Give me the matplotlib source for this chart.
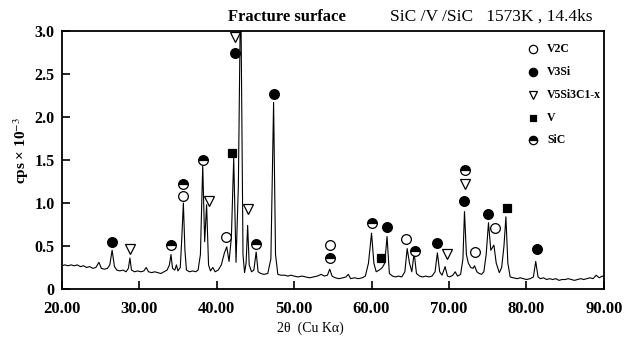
import matplotlib
matplotlib.use("Agg")
import matplotlib.pyplot as plt

# ---------------- data ----------------
two_theta = [20.0, 20.4, 20.8, 21.2, 21.6, 22.0, 22.4, 22.8, 23.2, 23.6, 24.0, 24.4, 24.8, 25.1, 25.5,
             25.9, 26.2, 26.5, 26.8, 27.1, 27.5, 27.9, 28.3, 28.6, 28.8, 29.0, 29.4, 29.8, 30.2, 30.6,
             30.9, 31.2, 31.6, 32.0, 32.4, 32.8, 33.2, 33.6, 33.9, 34.1, 34.3, 34.6, 34.8, 35.0, 35.3,
             35.5, 35.7, 35.9, 36.1, 36.5, 36.9, 37.3, 37.6, 37.9, 38.2, 38.45, 38.7, 38.95, 39.2, 39.5,
             39.8, 40.2, 40.6, 41.0, 41.3, 41.6, 41.9, 42.2, 42.5, 42.8, 43.1, 43.4, 43.6, 43.8, 44.0,
             44.2, 44.5, 44.8, 45.1, 45.35, 45.7, 46.1, 46.6, 47.0, 47.35, 47.6, 47.9, 48.3, 48.8, 49.2,
             49.6, 50.0, 50.5, 51.0, 51.5, 52.0, 52.5, 53.0, 53.5, 53.9, 54.3, 54.6, 54.9, 55.3, 55.8,
             56.3, 56.7, 57.0, 57.3, 57.8, 58.3, 58.8, 59.2, 59.6, 60.0, 60.3, 60.6, 61.0, 61.4, 61.7,
             62.0, 62.3, 62.7, 63.1, 63.5, 63.9, 64.3, 64.6, 64.9, 65.2, 65.5, 65.8, 66.2, 66.6, 67.0,
             67.4, 67.8, 68.2, 68.5, 68.8, 69.1, 69.5, 69.8, 70.1, 70.5, 70.8, 71.1, 71.5, 71.8, 72.0,
             72.25, 72.5, 72.8, 73.1, 73.3, 73.6, 73.9, 74.2, 74.5, 74.8, 75.1, 75.4, 75.8, 76.1, 76.5,
             76.8, 77.1, 77.35, 77.6, 77.9, 78.3, 78.8, 79.2, 79.6, 80.0, 80.5, 80.9, 81.2, 81.5, 81.8,
             82.2, 82.6, 83.0, 83.4, 83.8, 84.2, 84.6, 85.0, 85.4, 85.8, 86.2, 86.6, 87.0, 87.4, 87.8,
             88.2, 88.6, 89.0, 89.4, 89.8, 90.0]
counts = [0.27, 0.28, 0.27, 0.28, 0.27, 0.28, 0.26, 0.27, 0.25, 0.26, 0.24, 0.25, 0.31, 0.24, 0.23,
          0.24, 0.28, 0.45, 0.26, 0.22, 0.21, 0.22, 0.20, 0.24, 0.36, 0.22, 0.20, 0.21, 0.20, 0.21,
          0.25, 0.20, 0.19, 0.20, 0.19, 0.18, 0.20, 0.22, 0.28, 0.40, 0.24, 0.22, 0.28, 0.21, 0.25,
          0.60, 1.00, 0.45, 0.22, 0.20, 0.21, 0.20, 0.22, 0.40, 1.44, 0.55, 0.98, 0.28, 0.21, 0.25,
          0.20, 0.22, 0.28, 0.42, 0.49, 0.32, 0.60, 1.52, 0.31, 1.20, 3.60, 0.40, 0.19, 0.30, 0.74,
          0.28, 0.20, 0.22, 0.43, 0.20, 0.18, 0.17, 0.18, 0.35, 2.17, 0.40, 0.17, 0.16, 0.16, 0.15,
          0.16, 0.15, 0.14, 0.15, 0.14, 0.13, 0.14, 0.15, 0.17, 0.15, 0.16, 0.23, 0.15, 0.13, 0.12,
          0.13, 0.14, 0.17, 0.12, 0.13, 0.12, 0.13, 0.15, 0.30, 0.65, 0.30, 0.20, 0.22, 0.25, 0.30,
          0.61, 0.18, 0.15, 0.14, 0.15, 0.14, 0.20, 0.47, 0.30, 0.20, 0.42, 0.18, 0.15, 0.14, 0.15,
          0.14, 0.15, 0.20, 0.42, 0.20, 0.16, 0.26, 0.15, 0.14, 0.16, 0.20, 0.15, 0.17, 0.35, 0.90,
          0.40, 0.30, 0.25, 0.24, 0.27, 0.20, 0.18, 0.17, 0.20, 0.40, 0.77, 0.45, 0.51, 0.30, 0.19,
          0.25, 0.50, 0.84, 0.30, 0.14, 0.13, 0.12, 0.13, 0.12, 0.11, 0.12, 0.14, 0.32, 0.14, 0.12,
          0.13, 0.11, 0.12, 0.11, 0.12, 0.10, 0.11, 0.11, 0.12, 0.11, 0.10, 0.11, 0.12, 0.11, 0.12,
          0.13, 0.12, 0.16, 0.13, 0.15, 0.14]

# peak markers (2theta, height) per phase
v2c_x = [35.7, 41.2, 54.6, 64.5, 73.4, 76.0]
v2c_y = [1.08, 0.60, 0.51, 0.58, 0.43, 0.71]
v3si_x = [26.5, 42.4, 47.4, 62.0, 68.5, 72.0, 75.0, 81.3]
v3si_y = [0.55, 2.74, 2.27, 0.72, 0.53, 1.02, 0.87, 0.46]
v5si3_x = [28.8, 39.0, 42.4, 44.0, 69.8, 72.1]
v5si3_y = [0.46, 1.02, 2.93, 0.93, 0.41, 1.22]
v_x = [42.0, 61.2, 77.5]
v_y = [1.58, 0.36, 0.94]
sic_x = [34.1, 35.7, 38.2, 45.1, 54.6, 60.0, 65.6, 72.1]
sic_y = [0.51, 1.22, 1.50, 0.52, 0.36, 0.77, 0.44, 1.38]

legend_labels = ["V2C", "V3Si", "V5Si3C1-x", "V", "SiC"]

xticks = [20, 30, 40, 50, 60, 70, 80, 90]
xtick_labels = ["20.00", "30.00", "40.00", "50.00", "60.00", "70.00", "80.00", "90.00"]
yticks = [0, 0.5, 1.0, 1.5, 2.0, 2.5, 3.0]
ytick_labels = ["0", "0.5", "1.0", "1.5", "2.0", "2.5", "3.0"]

# ---------------- plot ----------------
plt.rcParams['font.family'] = ['Liberation Serif', 'DejaVu Serif']
plt.rcParams['mathtext.fontset'] = 'stix'

fig = plt.figure(figsize=(6.37, 3.49), dpi=100)
ax = fig.add_axes([0.097, 0.172, 0.851, 0.739])

ax.plot(two_theta, counts, color='black', lw=0.8)

ms = 7
styles = [
    (v2c_x, v2c_y, dict(marker='o', mfc='white', mec='black', ms=ms)),
    (v3si_x, v3si_y, dict(marker='o', mfc='black', mec='black', ms=ms)),
    (v5si3_x, v5si3_y, dict(marker='v', mfc='white', mec='black', ms=ms - 0.5)),
    (v_x, v_y, dict(marker='s', mfc='black', mec='black', ms=ms - 1.5)),
    (sic_x, sic_y, dict(marker='o', mfc='black', mec='black', fillstyle='top',
                        markerfacecoloralt='white', ms=ms)),
]
for xs, ys, st in styles:
    ax.plot(xs, ys, ls='none', mew=0.9, clip_on=False, **st)

# legend (manual)
leg_y = [0.930, 0.841, 0.752, 0.663, 0.578]
for (xs, ys, st), lab, yy in zip(styles, legend_labels, leg_y):
    st2 = dict(st)
    st2['ms'] = st['ms'] - 1
    ax.plot([0.869], [yy], ls='none', mew=0.9, transform=ax.transAxes, clip_on=False, **st2)
    ax.text(0.895, yy, lab, transform=ax.transAxes, ha='left', va='center', fontsize=8.5,
            fontweight='bold')

ax.set_xlim(20, 90)
ax.set_ylim(0, 3.0)
ax.set_xticks(xticks)
ax.set_xticklabels(xtick_labels, fontsize=12, fontweight='bold')
ax.set_yticks(yticks)
ax.set_yticklabels(ytick_labels, fontsize=11.5, fontweight='bold')
ax.tick_params(direction='in', length=6, width=1.2)
ax.tick_params(axis='x', pad=9)
ax.tick_params(axis='y', pad=5)
for s in ax.spines.values():
    s.set_linewidth(1.3)

fig.text(0.358, 0.952, "Fracture surface", fontsize=12, fontweight='bold', ha='left', va='center')
fig.text(0.612, 0.952, "SiC /V /SiC   1573K , 14.4ks", fontsize=12.5, ha='left', va='center')
fig.text(0.033, 0.57, "cps \u00d7 10$^{-3}$", rotation=90, fontsize=11, fontweight='bold',
         ha='center', va='center')
fig.text(0.487, 0.06, "2\u03b8  (Cu K\u03b1)", fontsize=10, ha='center', va='center')

fig.savefig("out.png", dpi=100)
